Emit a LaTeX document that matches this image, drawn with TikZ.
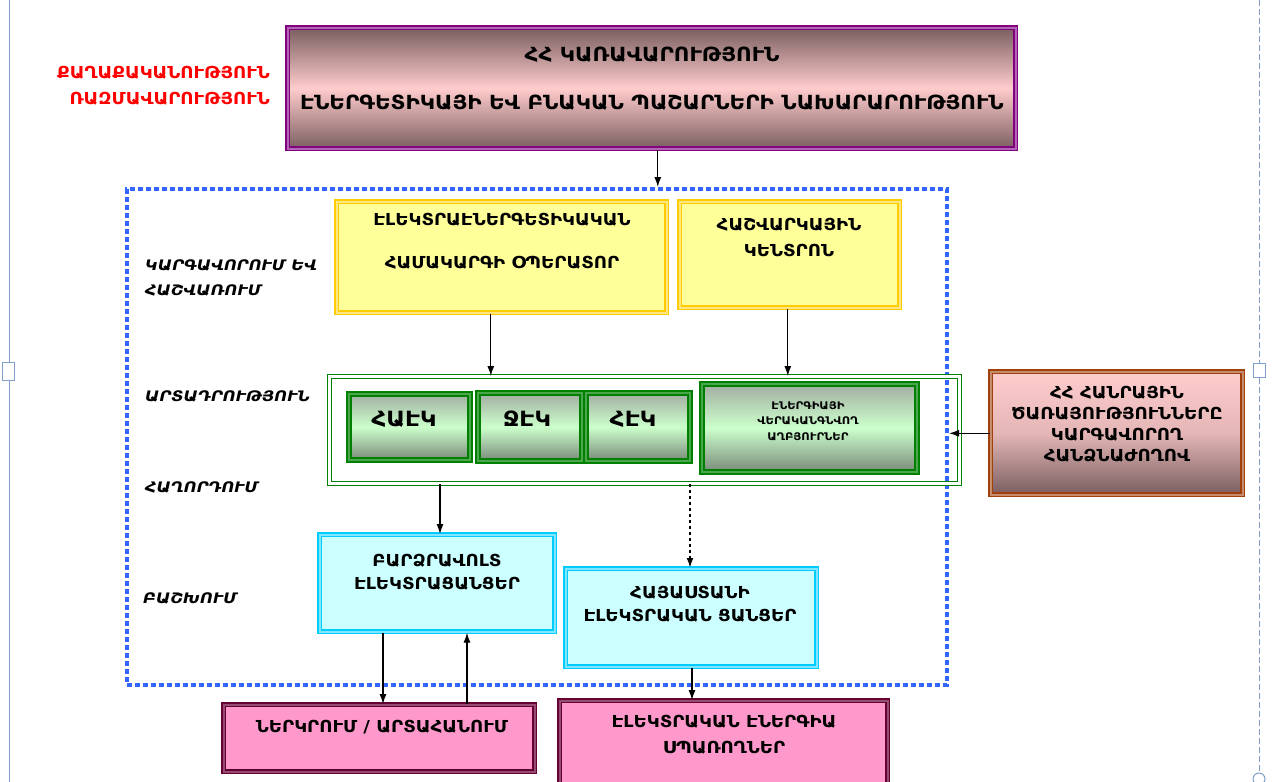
\documentclass[tikz,border=0pt]{standalone}
\usepackage{fontspec}
\usetikzlibrary{arrows.meta,calc}
\newfontfamily\arm{DejaVu Sans}[FakeStretch=1.1]
\definecolor{purp}{HTML}{800080}
\definecolor{mauve}{HTML}{7A5E60}
\definecolor{lpink}{HTML}{FFCCCC}
\definecolor{gold}{HTML}{FFCC00}
\definecolor{lyel}{HTML}{FFFF99}
\definecolor{midyel}{HTML}{FFE680}
\definecolor{dgreen}{HTML}{008000}
\definecolor{lgreen}{HTML}{CCFFCC}
\definecolor{ggray}{HTML}{7A8A7A}
\definecolor{brown}{HTML}{A0400A}
\definecolor{cyanb}{HTML}{00CCFF}
\definecolor{lcyan}{HTML}{CCFFFF}
\definecolor{maroon}{HTML}{660033}
\definecolor{pinkf}{HTML}{FF99CC}
\definecolor{frameblue}{HTML}{3366FF}
\definecolor{pageline}{HTML}{7F9FC8}
\tikzset{
  txt/.style={font=\arm\bfseries\fontsize{16.5}{19}\selectfont, inner sep=0pt, align=center},
  ltxt/.style={font=\arm\bfseries\itshape\fontsize{14.5}{17}\selectfont, inner sep=0pt, anchor=west},
  bx/.style={rectangle, anchor=north west, inner sep=0pt},
  topbox/.style={bx, draw=purp, line width=1.6pt, double=purp!60, double distance=1.6pt, top color=mauve, bottom color=mauve, middle color=lpink},
  ybox/.style={bx, draw=gold, line width=1.6pt, double=midyel, double distance=2pt, fill=lyel},
  gbox/.style={bx, draw=dgreen, line width=1.8pt, double=dgreen!70, double distance=1.8pt, top color=ggray!70, bottom color=ggray, middle color=lgreen},
  rbox/.style={bx, draw=brown, line width=1.6pt, double=brown!60, double distance=1.6pt, top color=lpink, bottom color=mauve, middle color=lpink!80!mauve},
  cbox/.style={bx, draw=cyanb, line width=1.6pt, double=cyanb!50, double distance=2pt, fill=lcyan},
  pbox/.style={bx, draw=maroon, line width=1.6pt, double=maroon!70, double distance=1.6pt, fill=pinkf},
  arr/.style={-{Latex[length=10pt,width=7pt]}, line width=1.2pt, black},
  big/.style={font=\arm\bfseries\fontsize{21}{24}\selectfont},
}
\begin{document}
\begin{tikzpicture}[x=1pt,y=-1pt]
\useasboundingbox[fill=white] (0,0) rectangle (1275,782);
% page guide lines
\draw[pageline, line width=1pt] (9,0) -- (9,782);
\draw[pageline, line width=1pt, dash pattern=on 6pt off 3pt] (1259,0) -- (1259,782);
\draw[pageline, line width=1pt, fill=white] (2,362) rectangle (14,380);
\draw[pageline, line width=1pt, fill=white] (1253,363) rectangle (1265,377);
\draw[pageline, line width=1pt, fill=white] (626,774) rectangle (638,786);
\draw[pageline, line width=1pt, fill=white] (1259,779) circle (6);

% red labels
\node[txt, text=red, anchor=east] (pol) at (270,73) {ՔԱՂԱՔԱԿԱՆՈՒԹՅՈՒՆ};
\node[txt, text=red, anchor=east] (str) at (270,99) {ՌԱԶՄԱՎԱՐՈՒԹՅՈՒՆ};

% top box
\node[topbox, minimum width=728pt, minimum height=121pt] (gov) at (287,27) {};
\node[txt, font=\arm\bfseries\fontsize{19.5}{22}\selectfont] (govt1) at (652,55) {ՀՀ ԿԱՌԱՎԱՐՈՒԹՅՈՒՆ};
\node[txt, font=\arm\bfseries\fontsize{19.5}{22}\selectfont] (govt2) at (652,103) {ԷՆԵՐԳԵՏԻԿԱՅԻ ԵՎ ԲՆԱԿԱՆ ՊԱՇԱՐՆԵՐԻ ՆԱԽԱՐԱՐՈՒԹՅՈՒՆ};

% dashed frame
\node[bx, draw=frameblue, line width=4pt, dash pattern=on 5pt off 3pt, minimum width=820pt, minimum height=496pt] (frame) at (125,187) {};

% left labels
\node[ltxt] (reg1) at (145,265) {ԿԱՐԳԱՎՈՐՈՒՄ ԵՎ};
\node[ltxt] (reg2) at (145,290) {ՀԱՇՎԱՌՈՒՄ};
\node[ltxt] (prod) at (145,396) {ԱՐՏԱԴՐՈՒԹՅՈՒՆ};
\node[ltxt] (trans) at (145,487) {ՀԱՂՈՐԴՈՒՄ};
\node[ltxt] (dist) at (143,598) {ԲԱՇԽՈՒՄ};

% yellow boxes
\node[ybox, minimum width=330pt, minimum height=111pt] (op) at (336,201) {};
\node[txt] (opt1) at (502,220) {ԷԼԵԿՏՐԱԷՆԵՐԳԵՏԻԿԱԿԱՆ};
\node[txt] (opt2) at (502,263) {ՀԱՄԱԿԱՐԳԻ ՕՊԵՐԱՏՈՐ};
\node[ybox, minimum width=220pt, minimum height=106pt] (sc) at (679,201) {};
\node[txt] (sct1) at (789,225) {ՀԱՇՎԱՐԿԱՅԻՆ};
\node[txt] (sct2) at (789,250) {ԿԵՆՏՐՈՆ};

% green container
\node[bx, draw=dgreen, line width=1.1pt, double=white, double distance=2.5pt, minimum width=630pt, minimum height=107pt] (gen) at (329,376) {};
\node[gbox, minimum width=121pt, minimum height=66pt] (npp) at (348,393) {};
\node[txt, big] (nppt) at (404,419) {ՀԱԷԿ};
\node[gbox, minimum width=104pt, minimum height=68pt] (tpp) at (477,392) {};
\node[txt, big] (tppt) at (527,419) {ՋԷԿ};
\node[gbox, minimum width=104pt, minimum height=68pt] (hpp) at (585,392) {};
\node[txt, big] (hppt) at (633,419) {ՀԷԿ};
\node[gbox, minimum width=215pt, minimum height=88pt] (ren) at (701,383) {};
\node[txt, font=\arm\bfseries\fontsize{10.5}{15.5}\selectfont] (rent) at (808,421) {ԷՆԵՐԳԻԱՅԻ\\ՎԵՐԱԿԱՆԳՆՎՈՂ\\ԱՂԲՅՈՒՐՆԵՐ};

% right box
\node[rbox, minimum width=252pt, minimum height=123pt] (psrc) at (990,371) {};
\node[txt, font=\arm\bfseries\fontsize{16.5}{21}\selectfont] (psrct) at (1117,424) {ՀՀ ՀԱՆՐԱՅԻՆ\\ԾԱՌԱՅՈՒԹՅՈՒՆՆԵՐԸ\\ԿԱՐԳԱՎՈՐՈՂ\\ՀԱՆՁՆԱԺՈՂՈՎ};

% cyan boxes
\node[cbox, minimum width=235pt, minimum height=97pt] (hv) at (319,534) {};
\node[txt] (hvt1) at (437,561) {ԲԱՐՁՐԱՎՈԼՏ};
\node[txt] (hvt2) at (437,584) {ԷԼԵԿՏՐԱՑԱՆՑԵՐ};
\node[cbox, minimum width=251pt, minimum height=98pt] (ena) at (565,568) {};
\node[txt] (enat1) at (690,593) {ՀԱՅԱՍՏԱՆԻ};
\node[txt] (enat2) at (690,616) {ԷԼԵԿՏՐԱԿԱՆ ՑԱՆՑԵՐ};

% pink boxes
\node[pbox, minimum width=311pt, minimum height=67pt] (imp) at (223,704) {};
\node[txt] (impt) at (382,727) {ՆԵՐԿՐՈՒՄ / ԱՐՏԱՀԱՆՈՒՄ};
\node[pbox, minimum width=328pt, minimum height=90pt] (cons) at (559,700) {};
\node[txt] (const1) at (724,722) {ԷԼԵԿՏՐԱԿԱՆ ԷՆԵՐԳԻԱ};
\node[txt] (const2) at (724,748) {ՍՊԱՌՈՂՆԵՐ};

% connector anchor points
\coordinate (a1) at ($(gov.south)+(6,0)$);
\coordinate (a2) at ($(op.south)+(-11,0)$);
\coordinate (a3) at ($(sc.south)+(-2,0)$);
\coordinate (a4) at ($(gen.south west)+(111,0)$);
\coordinate (a5) at ($(gen.south west)+(361,0)$);
\coordinate (a6) at ($(hv.south west)+(64,0)$);
\coordinate (a7) at ($(imp.north west)+(244,0)$);
\coordinate (a8) at ($(ena.south west)+(127,0)$);

% connectors
\draw[arr] (a1) -- (a1 |- frame.north);
\draw[arr] (a2) -- (a2 |- gen.north);
\draw[arr] (a3) -- (a3 |- gen.north);
\draw[arr] (psrc.west) -- (psrc.west -| frame.east);
\draw[arr] (a4) -- (a4 |- hv.north);
\draw[arr, line width=2.2pt, dash pattern=on 3pt off 3pt] (a5) -- (a5 |- ena.north);
\draw[arr] (a6) -- (a6 |- imp.north);
\draw[arr] (a7) -- (a7 |- hv.south);
\draw[arr] (a8) -- (a8 |- cons.north);
\end{tikzpicture}
\end{document}
